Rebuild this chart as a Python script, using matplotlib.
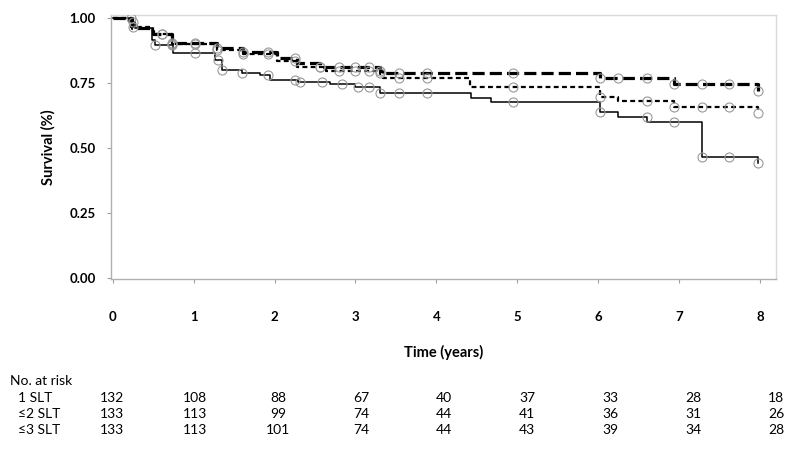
import matplotlib
matplotlib.use("Agg")
import matplotlib.pyplot as plt
import numpy as np

plt.rcParams['font.family'] = ['Lato', 'DejaVu Sans']

# ---- data ----
# 1 SLT (solid)
t1 = [0, 0.20, 0.27, 0.48, 0.52, 0.74, 1.26, 1.35, 1.60, 1.82, 1.94, 2.29, 2.69, 2.99, 3.30, 4.43, 4.68, 6.03, 6.25, 6.61, 7.29, 7.98]
s1 = [1.00, 0.985, 0.96, 0.915, 0.895, 0.865, 0.84, 0.80, 0.788, 0.78, 0.76, 0.753, 0.747, 0.734, 0.71, 0.693, 0.676, 0.64, 0.618, 0.598, 0.467, 0.444]
c1 = [0.25, 0.52, 0.73, 1.01, 1.30, 1.35, 1.60, 1.92, 2.25, 2.31, 2.59, 2.83, 3.03, 3.17, 3.30, 3.54, 3.89, 4.95, 6.03, 6.60, 6.94, 7.29, 7.62, 7.98]

# <=2 SLT (short dash)
t2 = [0, 0.22, 0.50, 0.73, 1.29, 1.61, 2.03, 2.28, 2.63, 3.34, 4.42, 6.03, 6.25, 6.94, 7.98]
s2 = [1.00, 0.965, 0.94, 0.90, 0.876, 0.862, 0.835, 0.81, 0.795, 0.768, 0.733, 0.695, 0.68, 0.656, 0.633]
c2 = [0.25, 0.61, 0.73, 1.01, 1.29, 1.61, 1.92, 2.25, 2.56, 2.80, 3.00, 3.17, 3.30, 3.54, 3.89, 4.95, 6.03, 6.60, 6.94, 7.29, 7.62, 7.98]

# <=3 SLT (long dash)
t3 = [0, 0.24, 0.50, 0.73, 1.29, 1.61, 2.03, 2.28, 2.56, 3.30, 6.03, 6.94, 7.98]
s3 = [1.00, 0.96, 0.94, 0.905, 0.885, 0.87, 0.846, 0.826, 0.81, 0.787, 0.768, 0.745, 0.72]
c3 = [0.22, 0.61, 0.73, 1.01, 1.29, 1.61, 1.92, 2.25, 2.56, 2.80, 3.00, 3.17, 3.30, 3.54, 3.89, 4.95, 6.03, 6.25, 6.60, 6.94, 7.29, 7.62, 7.98]

x_ticks = [0, 1, 2, 3, 4, 5, 6, 7, 8]
y_ticks = [0.00, 0.25, 0.50, 0.75, 1.00]
y_ticklabels = ["0.00", "0.25", "0.50", "0.75", "1.00"]

risk_groups = ["1 SLT", "≤2 SLT", "≤3 SLT"]
risk_1 = [132, 108, 88, 67, 40, 37, 33, 28, 18]
risk_2 = [133, 113, 99, 74, 44, 41, 36, 31, 26]
risk_3 = [133, 113, 101, 74, 44, 43, 39, 34, 28]

# ---- figure ----
fig = plt.figure(figsize=(8, 4.5), dpi=100)
ax = fig.add_axes([0.139, 0.38, 0.831, 0.587])

def draw(t, s, c, **kw):
    ax.step(t, s, where='post', color='black', **kw)
    tt = np.array(t); ss = np.array(s)
    cy = [ss[np.searchsorted(tt, ci, side='right') - 1] for ci in c]
    ax.plot(c, cy, linestyle='none', marker='o', ms=6.5, mfc='none',
            mec='#999999', mew=0.8, zorder=4)

draw(t1, s1, c1, lw=1.1, zorder=3)
draw(t2, s2, c2, lw=1.6, dashes=(2.2, 1.5), zorder=3)
draw(t3, s3, c3, lw=2.3, dashes=(3.8, 1.6), zorder=3)

ax.set_xlim(-0.02, 8.2)
ax.set_ylim(-0.004, 1.012)
ax.set_xticks(x_ticks)
ax.set_xticklabels([str(v) for v in x_ticks], fontweight='bold', fontsize=9.5)
ax.set_yticks(y_ticks)
ax.set_yticklabels(y_ticklabels, fontweight='bold', fontsize=9.5)
ax.tick_params(axis='x', length=3, color='#a0a0a0', pad=20, direction='out')
ax.tick_params(axis='y', length=3, color='#a0a0a0', pad=8, direction='out')
for sp in ['top', 'right']:
    ax.spines[sp].set_color('#d9d9d9')
for sp in ['left', 'bottom']:
    ax.spines[sp].set_color('#b0b0b0')
for sp in ax.spines.values():
    sp.set_linewidth(1.0)

ax.set_ylabel("Survival (%)", fontweight='bold', fontsize=10.5, labelpad=10)
ax.set_xlabel("Time (years)", fontweight='bold', fontsize=10.5, labelpad=16)

# ---- risk table ----
W, H = 800.0, 450.0
fs = 10
fig.text(10 / W, 1 - 381 / H, "No. at risk", fontsize=fs, va='center', ha='left')
rows = [risk_1, risk_2, risk_3]
row_y = [398, 414, 430]
for gi, (g, vals, yy) in enumerate(zip(risk_groups, rows, row_y)):
    fig.text(18 / W, 1 - yy / H, g, fontsize=fs, va='center', ha='left')
    for i, v in enumerate(vals):
        xpx = 112 + i * 83
        fig.text(xpx / W, 1 - yy / H, str(v), fontsize=fs, va='center', ha='center')

fig.savefig("out.png", dpi=100)
